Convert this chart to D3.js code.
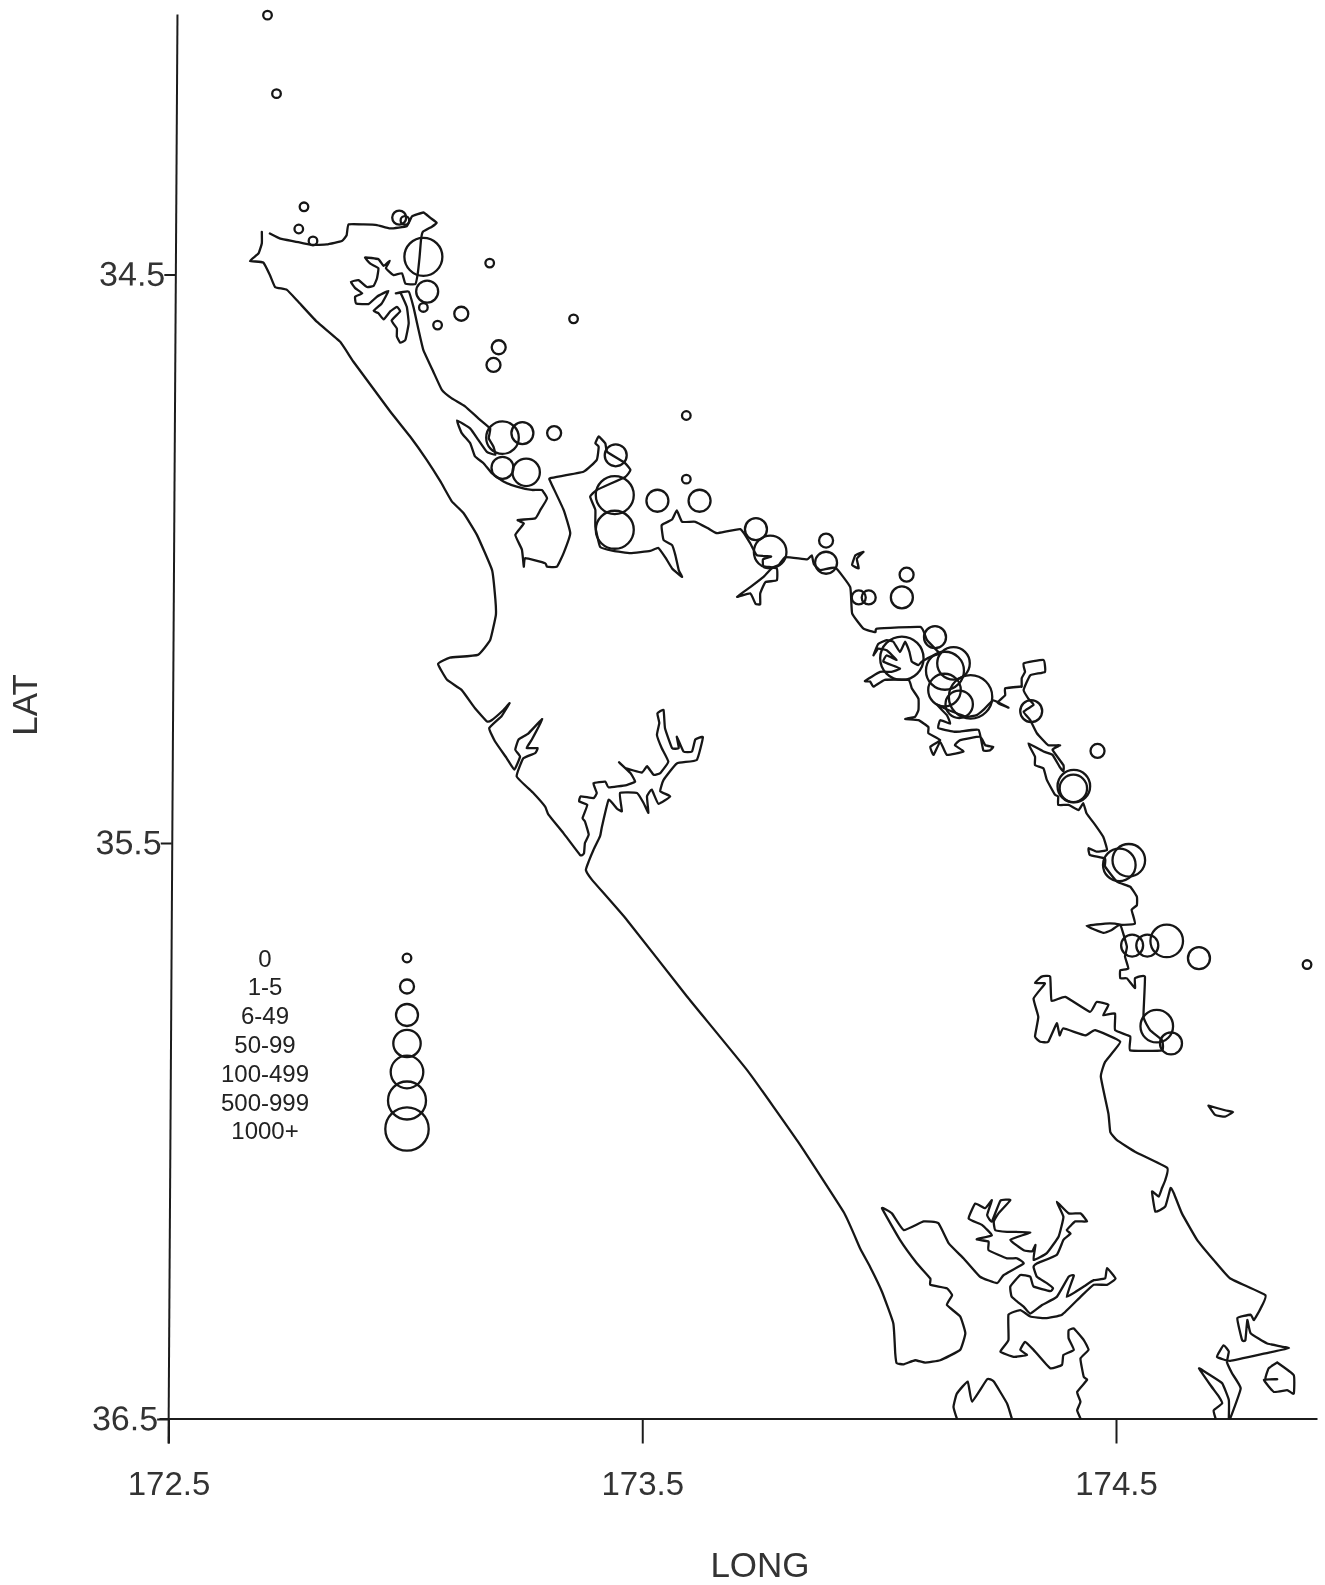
<!DOCTYPE html>
<meta charset="utf-8">
<head>
<style>
body { margin: 0; background: #fff; font-family: "Liberation Sans", sans-serif; }
svg { filter: blur(0.35px); }
.coast { fill: none; stroke: #161616; stroke-width: 2.3px; stroke-linejoin: round; stroke-linecap: round; }
.site { fill: none; stroke: #161616; stroke-width: 2.3px; }
.axis path, .axis line { stroke: #1c1c1c; stroke-width: 2px; fill: none; }
.axis text { fill: #333; font-family: "Liberation Sans", sans-serif; }
.title { fill: #333; font-size: 35px; }
.legendLabel { fill: #222; font-size: 24px; text-anchor: middle; }
</style>
<script src="https://d3js.org/d3.v7.min.js"></script>
</head>
<body>
<div id="chart"></div>
<script>

//// coastline, digitised as [long, lat] in degrees
var westCoast = [[172.697,34.425],[172.697,34.445],[172.690,34.463],[172.672,34.476],[172.700,34.479],[172.714,34.501],[172.725,34.522],[172.750,34.527],[172.774,34.548],[172.813,34.583],[172.862,34.618],[172.890,34.653],[172.929,34.697],[172.968,34.741],[173.010,34.785],[173.045,34.826],[173.074,34.864],[173.098,34.899],[173.123,34.920],[173.151,34.958],[173.183,35.020],[173.190,35.072],
[173.191,35.099],[173.179,35.143],[173.153,35.169],[173.094,35.174],[173.069,35.185],[173.088,35.213],
[173.119,35.231],[173.147,35.263],[173.172,35.286],[173.182,35.284],[173.207,35.266],[173.220,35.254],[173.203,35.277],[173.177,35.298],[173.189,35.321],[173.214,35.351],[173.230,35.371],[173.242,35.348],[173.232,35.336],[173.239,35.318],[173.260,35.307],[173.289,35.282],[173.267,35.318],[173.256,35.333],[173.279,35.333],[173.274,35.342],[173.249,35.351],[173.235,35.383],[173.270,35.412],[173.295,35.436],[173.302,35.450],[173.334,35.483],[173.369,35.521],[173.377,35.518],[173.379,35.500],[173.387,35.485],[173.379,35.462],[173.374,35.456],[173.384,35.433],[173.367,35.427],[173.370,35.418],[173.397,35.421],[173.404,35.412],[173.397,35.395],[173.422,35.392],[173.429,35.402],[173.467,35.398],[173.485,35.392],[173.475,35.377],[173.451,35.358],[173.464,35.368],[173.499,35.376],[173.510,35.365],[173.524,35.380],[173.538,35.377],[173.555,35.357],[173.541,35.333],[173.531,35.310],[173.536,35.289],[173.532,35.272],[173.545,35.266],[173.548,35.298],[173.563,35.333],[173.577,35.333],[173.573,35.313],[173.587,35.339],[173.605,35.339],[173.612,35.318],[173.628,35.314],[173.615,35.354],[173.573,35.360],[173.545,35.389],[173.538,35.409],[173.559,35.418],[173.534,35.431],[173.520,35.406],[173.510,35.418],[173.513,35.447],[173.503,35.430],[173.489,35.412],[173.453,35.412],[173.457,35.444],[173.446,35.439],[173.429,35.424],[173.415,35.471],[173.411,35.488],[173.397,35.512],[173.387,35.532],[173.381,35.547],[173.394,35.564],
[173.468,35.634],[173.594,35.766],[173.723,35.896],[173.829,36.019],[173.926,36.142],
[173.960,36.204],[173.981,36.236],[174.006,36.279],[174.030,36.334],[174.034,36.386],[174.037,36.403],[174.052,36.405],[174.076,36.398],[174.097,36.402],[174.129,36.398],[174.171,36.380],[174.182,36.351],[174.171,36.322],[174.143,36.302],[174.154,36.285],[174.143,36.273],[174.108,36.267],[174.108,36.256],[174.080,36.230],[174.044,36.189],[174.006,36.134],[174.027,36.143],[174.052,36.172],[174.094,36.157],[174.125,36.160],[174.147,36.195],[174.178,36.221],[174.213,36.253],[174.249,36.264],[174.263,36.250],[174.305,36.230],[174.291,36.221],[174.270,36.221],[174.231,36.207],[174.231,36.192],[174.206,36.188],[174.238,36.181],[174.217,36.163],[174.189,36.152],[174.203,36.126],[174.224,36.134],[174.238,36.120],[174.228,36.146],[174.238,36.157],[174.256,36.121],[174.277,36.120],[174.252,36.143],[174.242,36.157],[174.245,36.172],[174.270,36.175],[174.319,36.176],[174.277,36.189],[174.305,36.207],[174.323,36.209],[174.330,36.198],[174.326,36.224],[174.354,36.212],[174.379,36.183],[174.389,36.149],[174.375,36.123],[174.400,36.143],[174.425,36.143],[174.439,36.157],[174.414,36.157],[174.396,36.172],[174.404,36.178],[174.389,36.189],[174.375,36.215],[174.333,36.230],[174.326,36.236],[174.333,36.253],[174.354,36.264],[174.367,36.273],[174.361,36.278],[174.326,36.270],[174.319,36.253],[174.298,36.250],[174.277,36.270],[174.280,36.288],[174.305,36.305],[174.319,36.317],[174.344,36.302],[174.375,36.288],[174.400,36.253],[174.411,36.251],[174.396,36.288],[174.432,36.270],[174.453,36.259],[174.477,36.256],[174.481,36.238],[174.499,36.256],[174.481,36.267],[174.453,36.267],[174.425,36.288],[174.386,36.319],[174.351,36.325],[174.319,36.322],[174.298,36.311],[174.273,36.319],[174.273,36.363],[174.256,36.383],[174.284,36.392],[174.312,36.389],[174.298,36.380],[174.308,36.366],[174.326,36.380],[174.361,36.412],[174.386,36.406],[174.389,36.389],[174.411,36.380],[174.400,36.360],[174.400,36.346],[174.411,36.343],[174.432,36.363],[174.442,36.380],[174.425,36.395],[174.432,36.427],[174.439,36.432],[174.418,36.453],[174.425,36.470],[174.418,36.485],[174.425,36.499]];

var eastCoast = [[172.714,34.428],[172.736,34.437],[172.767,34.442],[172.802,34.448],[172.834,34.447],[172.866,34.441],[172.876,34.431],[172.880,34.412],[172.912,34.412],[172.940,34.413],[172.968,34.419],[173.003,34.415],[173.014,34.398],[173.038,34.391],[173.052,34.400],[173.066,34.409],[173.056,34.416],[173.037,34.425],[173.033,34.439],[173.030,34.469],[173.026,34.499],[173.021,34.517],[173.000,34.516],[172.993,34.498],[172.975,34.501],[172.959,34.489],[172.967,34.476],[172.954,34.485],[172.943,34.473],[172.915,34.470],[172.926,34.481],[172.943,34.489],[172.940,34.507],[172.933,34.520],[172.919,34.522],[172.901,34.510],[172.885,34.513],[172.894,34.524],[172.909,34.533],[172.894,34.539],[172.896,34.551],[172.922,34.552],[172.940,34.539],[172.964,34.529],[172.950,34.551],[172.933,34.564],[172.943,34.568],[172.954,34.579],[172.968,34.565],[172.982,34.557],[172.989,34.565],[172.971,34.581],[172.982,34.595],[172.982,34.609],[172.989,34.620],[173.000,34.615],[173.007,34.586],[173.003,34.557],[172.990,34.533],[172.980,34.533],[173.007,34.530],[173.017,34.557],[173.028,34.598],[173.038,34.633],[173.059,34.671],[173.077,34.703],[173.098,34.718],[173.126,34.732],[173.154,34.753],[173.179,34.771],[173.176,34.788],[173.186,34.803],[173.190,34.817],[173.172,34.812],[173.154,34.791],[173.137,34.771],[173.109,34.757],[173.119,34.779],[173.137,34.797],[173.147,34.820],[173.165,34.832],[173.183,34.850],[173.207,34.864],[173.235,34.873],[173.267,34.879],[173.288,34.879],[173.299,34.894],[173.285,34.914],[173.274,34.929],[173.237,34.932],[173.250,34.938],[173.232,34.958],[173.246,34.984],[173.250,35.014],[173.253,34.999],[173.295,35.008],[173.299,35.014],[173.320,35.014],[173.334,34.990],[173.348,34.955],[173.334,34.914],[173.306,34.864],[173.306,34.858],[173.376,34.847],[173.404,34.826],[173.408,34.803],[173.401,34.797],[173.408,34.785],[173.422,34.797],[173.426,34.812],[173.464,34.832],[173.475,34.844],[173.464,34.856],[173.404,34.879],[173.390,34.891],[173.401,34.914],[173.401,34.943],[173.411,34.979],
[173.439,34.986],[173.475,34.990],[173.517,34.986],[173.534,34.981],[173.549,34.998],[173.563,35.017],[173.584,35.032],[173.577,35.020],[173.570,34.994],[173.563,34.976],[173.545,34.967],[173.541,34.941],[173.563,34.931],[173.573,34.915],[173.584,34.935],[173.612,34.935],[173.640,34.947],[173.658,34.955],[173.707,34.948],[173.728,34.973],[173.742,34.994],[173.772,34.996],[173.755,35.001],[173.756,35.013],[173.784,35.017],[173.784,35.038],[173.760,35.041],[173.749,35.061],[173.749,35.080],[173.739,35.079],[173.728,35.061],[173.700,35.067],[173.728,35.050],[173.756,35.032],[173.774,35.016],[173.788,35.011],[173.802,34.997],[173.848,35.001],[173.858,34.994],[173.862,35.009],[173.876,35.020],[173.908,35.016],[173.939,35.050],[173.943,35.096],[173.967,35.123],[173.992,35.129],[173.996,35.123],[174.087,35.120],[174.101,35.143],
[174.125,35.164],[174.129,35.167],[174.115,35.170],[174.090,35.181],[174.083,35.187],[174.069,35.181],[174.064,35.164],[174.055,35.146],[174.044,35.164],[174.030,35.146],[174.016,35.143],[173.998,35.150],[173.988,35.170],[173.998,35.158],[174.016,35.161],[174.037,35.178],[174.016,35.170],[174.009,35.181],[174.044,35.193],[174.026,35.199],[174.002,35.199],[173.970,35.215],[173.981,35.216],[173.988,35.225],[174.012,35.213],[174.062,35.213],[174.069,35.228],[174.083,35.246],[174.083,35.266],[174.076,35.278],[174.055,35.282],[174.083,35.284],[174.104,35.296],[174.104,35.307],[174.129,35.319],[174.108,35.331],[174.115,35.345],[174.129,35.322],[174.143,35.345],[174.178,35.339],[174.160,35.328],[174.171,35.319],[174.213,35.313],[174.224,35.328],[174.241,35.331],[174.234,35.337],[174.220,35.337],[174.210,35.301],[174.171,35.304],[174.157,35.304],[174.125,35.298],[174.129,35.284],[174.150,35.290],[174.143,35.275],[174.122,35.257],[174.146,35.266],[174.185,35.278],[174.206,35.275],[174.220,35.266],[174.241,35.249],[174.273,35.262],[174.250,35.253],[174.266,35.240],[174.266,35.228],[174.298,35.225],
[174.301,35.225],[174.301,35.210],[174.308,35.199],[174.305,35.184],[174.347,35.178],[174.350,35.199],[174.319,35.205],[174.305,35.231],[174.315,35.246],[174.326,35.257],[174.305,35.269],[174.319,35.284],[174.333,35.307],[174.357,35.328],[174.382,35.328],[174.366,35.336],[174.389,35.363],[174.389,35.374],[174.381,35.366],[174.366,35.345],[174.347,35.339],[174.315,35.325],[174.329,35.348],[174.329,35.363],[174.347,35.369],[174.354,35.389],[174.371,35.415],[174.378,35.418],[174.378,35.433],[174.400,35.433],[174.421,35.442],[174.431,35.430],[174.438,35.448],[174.456,35.468],[174.473,35.489],[174.481,35.512],[174.459,35.515],[174.442,35.509],[174.445,35.521],[174.477,35.527],[174.477,35.541],[174.502,35.567],[174.530,35.576],[174.544,35.593],[174.544,35.608],[174.533,35.616],[174.540,35.640],[174.512,35.642],[174.498,35.640],[174.477,35.640],[174.438,35.644],[174.473,35.656],[174.491,35.651],[174.509,35.642],[174.523,35.680],[174.519,35.697],[174.526,35.718],[174.509,35.721],[174.509,35.735],[174.523,35.735],[174.540,35.752],[174.540,35.735],[174.561,35.732],[174.558,35.802],[174.572,35.825],[174.597,35.842],[174.597,35.860],[174.530,35.860],[174.530,35.836],[174.498,35.825],[174.498,35.796],[174.473,35.799],[174.484,35.781],[174.459,35.776],[174.445,35.793],[174.393,35.767],[174.364,35.774],[174.361,35.732],[174.343,35.732],[174.329,35.743],[174.350,35.744],[174.326,35.770],[174.336,35.802],[174.329,35.836],[174.340,35.845],[174.357,35.845],[174.375,35.813],[174.381,35.834],[174.389,35.822],[174.435,35.834],[174.456,35.825],[174.509,35.845],[174.477,35.880],[174.468,35.906],[174.484,35.970],[174.488,36.002],[174.502,36.016],
[174.540,36.036],[174.608,36.064],[174.604,36.085],[174.597,36.099],[174.590,36.114],[174.576,36.105],[174.583,36.140],[174.604,36.131],[174.615,36.099],[174.622,36.108],[174.639,36.143],[174.671,36.189],[174.706,36.224],[174.741,36.256],[174.815,36.285],[174.805,36.308],[174.791,36.328],[174.784,36.319],[174.756,36.325],[174.766,36.363],[174.773,36.363],[174.777,36.328],[174.784,36.351],[174.819,36.369],[174.865,36.377],[174.815,36.386],[174.741,36.399],[174.713,36.392],[174.727,36.372],[174.738,36.383],[174.734,36.401],[174.745,36.421],[174.763,36.447],[174.741,36.499]];

var aucklandCoast = [[174.164,36.499],[174.157,36.479],[174.164,36.456],[174.187,36.435],[174.196,36.470],[174.228,36.431],[174.242,36.435],[174.270,36.473],[174.280,36.499]];
var whangaparaoaCoast = [[174.738,36.499],[174.738,36.467],[174.724,36.438],[174.699,36.424],[174.675,36.412],[174.699,36.441],[174.717,36.461],[174.724,36.473],[174.706,36.485],[174.710,36.499]];
var islandA = [[174.840,36.402],[174.875,36.424],[174.875,36.456],[174.861,36.450],[174.833,36.453],[174.812,36.432],[174.840,36.431],[174.815,36.431],[174.822,36.412],[174.840,36.402]];
var islandB = [[174.695,35.956],[174.730,35.964],[174.747,35.967],[174.730,35.975],[174.709,35.972],[174.695,35.956]];
var islandC = [[173.967,34.988],[173.950,34.994],[173.943,35.011],[173.957,35.017],[173.953,35.000],[173.967,34.988]];

//// sampling sites: position and catch class (index into classLabels)
var siteLong = [172.709,172.728,172.786,172.775,172.805,172.987,172.999,173.038,173.046,173.038,173.068,173.118,173.178,173.355,173.197,173.186,173.205,173.247,173.314,173.444,173.205,173.255,173.442,173.442,173.532,173.621,173.593,173.593,173.740,173.770,173.888,173.888,173.957,173.978,174.058,174.048,174.118,174.048,174.157,174.139,174.138,174.193,174.169,174.321,174.461,174.411,174.410,174.527,174.507,174.534,174.566,174.607,174.675,174.903,174.586,174.616];
var siteLat = [34.044,34.182,34.381,34.420,34.441,34.400,34.405,34.469,34.530,34.558,34.589,34.569,34.480,34.578,34.628,34.659,34.787,34.779,34.779,34.818,34.840,34.848,34.888,34.949,34.898,34.898,34.860,34.748,34.948,34.988,34.968,35.007,35.068,35.068,35.028,35.068,35.138,35.175,35.184,35.197,35.231,35.243,35.256,35.268,35.338,35.400,35.404,35.530,35.538,35.678,35.678,35.670,35.700,35.711,35.818,35.848];
var siteClass = [0,0,0,0,0,1,0,5,2,0,0,1,0,0,1,1,4,2,1,2,2,3,5,5,2,2,0,0,2,4,1,2,1,1,1,2,2,6,4,5,4,6,3,2,1,4,3,4,4,2,2,4,2,0,4,2];

var classLabels = ["0", "1-5", "6-49", "50-99", "100-499", "500-999", "1000+"];
var longTicks = [172.5, 173.5, 174.5];
var latTicks = [34.5, 35.5, 36.5];

var width = 1325, height = 1585;

var svg = d3.select("#chart").append("svg")
  .attr("width", width)
  .attr("height", height);

// the sheet is scanned slightly crooked, hence the extra stops on the scales
var xScale = d3.scaleLinear()
  .domain([172.48, 172.5, 174.5, 174.924])
  .range([159, 168.5, 1116, 1317]);
var yScale = d3.scaleLinear()
  .domain([34.042, 34.5, 35.5, 36.5, 36.542])
  .range([14, 274.5, 843, 1419, 1443]);
var radius = d3.scaleOrdinal()
  .domain(d3.range(classLabels.length))
  .range([4.3, 7, 11, 13.7, 16.3, 19, 21.7]);

//// axes
var xAxis = svg.append("g")
  .attr("class", "axis")
  .attr("transform", "translate(0,1418.5)")
  .call(d3.axisBottom(xScale).tickValues(longTicks).tickFormat(d3.format(".1f")).tickSize(25).tickSizeOuter(0).tickPadding(28));
xAxis.selectAll("text").style("font-size", "33px");

var yAxis = svg.append("g")
  .attr("class", "axis")
  .attr("transform", "rotate(0.36,168,1443) translate(168,0)")
  .call(d3.axisLeft(yScale).tickValues(latTicks).tickFormat(d3.format(".1f")).tickSize(11).tickSizeOuter(0).tickPadding(-1));
yAxis.selectAll("text").style("font-size", "34px");

svg.append("text").attr("class", "title")
  .attr("x", 760).attr("y", 1577).attr("text-anchor", "middle")
  .text("LONG");
svg.append("text").attr("class", "title")
  .attr("transform", "translate(37,705) rotate(-90)").attr("text-anchor", "middle")
  .text("LAT");

//// coastline
var line = d3.line()
  .curve(d3.curveCardinal.tension(0.65))
  .x(function(d) { return xScale(d[0]); })
  .y(function(d) { return yScale(d[1]); });
svg.selectAll(".coast")
  .data([westCoast, eastCoast, aucklandCoast, whangaparaoaCoast, islandA, islandB, islandC])
  .enter()
  .append("path")
    .attr("class", "coast")
    .attr("d", line);

//// sites
svg.selectAll(".site")
  .data(siteClass)
  .enter()
  .append("circle")
    .attr("class", "site")
    .attr("cx", function(d, i) { return xScale(siteLong[i]); })
    .attr("cy", function(d, i) { return yScale(siteLat[i]); })
    .attr("r", function(d) { return radius(d); });

//// legend
var legend = svg.selectAll(".legendRow")
  .data(classLabels)
  .enter()
  .append("g")
    .attr("class", "legendRow");
legend.append("text")
  .attr("class", "legendLabel")
  .attr("x", 265)
  .attr("y", function(d, i) { return 958 + i * 28.8; })
  .attr("dy", "0.36em")
  .text(function(d) { return d; });
legend.append("circle")
  .attr("class", "site")
  .attr("cx", 407)
  .attr("cy", function(d, i) { return 958 + i * 28.5; })
  .attr("r", function(d, i) { return radius(i); });

</script>
</body>
</html>
